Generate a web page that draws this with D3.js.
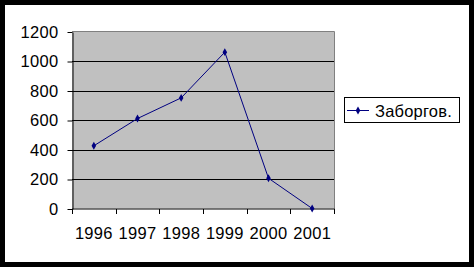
<!DOCTYPE html>
<html><head><meta charset="utf-8">
<script src="https://cdn.jsdelivr.net/npm/d3@7"></script>
<style>body{margin:0;background:#000;}svg{display:block;}</style>
</head><body>
<script>
const categories = ["1996","1997","1998","1999","2000","2001"];
const values = [425, 610, 750, 1060, 205, 0];
const yTicks = [0,200,400,600,800,1000,1200];
const seriesName = "Заборгов.";

const W = 474, H = 267;
const svg = d3.select("body").append("svg").attr("width", W).attr("height", H);
svg.append("rect").attr("x",0).attr("y",0).attr("width",W).attr("height",H).attr("fill","#000");
svg.append("rect").attr("x",5).attr("y",5).attr("width",464).attr("height",257).attr("fill","#fff");

const L = 72, R = 334, T = 31.5, B = 208.5;
const x = d3.scaleBand().domain(categories).range([L, R]);
const y = d3.scaleLinear().domain([0,1200]).range([B, T]);

svg.append("rect").attr("x",L).attr("y",T).attr("width",R-L).attr("height",B-T).attr("fill","#c0c0c0");
svg.append("path").attr("d",`M${L},${T}H${R+0.5}V${B}`).attr("fill","none").attr("stroke","#808080").attr("stroke-width",1);

svg.append("g").selectAll("line").data(yTicks.filter(d=>d>0 && d<1200)).join("line")
  .attr("x1",L).attr("x2",R).attr("y1",d=>Math.round(y(d))+0.5).attr("y2",d=>Math.round(y(d))+0.5)
  .attr("stroke","#000").attr("stroke-width",1);

const font = "'Liberation Sans', Arial, sans-serif";
const yAxis = d3.axisLeft(y).tickValues(yTicks).tickFormat(d3.format("d")).tickSize(5).tickPadding(9).tickSizeOuter(0);
const gy = svg.append("g").attr("transform",`translate(${L+0.5},0.5)`).call(yAxis);
gy.selectAll("text").attr("font-family",font).attr("font-size",16.5).attr("fill","#000").attr("letter-spacing","0.3px");
gy.selectAll("line,path").attr("stroke","#000");

const xAxis = d3.axisBottom(x).tickSize(0).tickPadding(18).tickSizeOuter(0);
const gx = svg.append("g").attr("transform",`translate(0,${B+0.5})`).call(xAxis);
gx.select(".domain").attr("stroke","#000").attr("d",`M${L},0H${R+1}`);
gx.selectAll("text").attr("font-family",font).attr("font-size",16.5).attr("fill","#000").attr("letter-spacing","0.3px");
const bounds = categories.map(c=>x(c)).concat([R]);
gx.selectAll(".btick").data(bounds).join("line").attr("class","btick")
  .attr("x1",d=>Math.round(d)+0.5).attr("x2",d=>Math.round(d)+0.5).attr("y1",0).attr("y2",5).attr("stroke","#000");

const cx = c => x(c) + x.bandwidth()/2;
const line = d3.line().x((d,i)=>cx(categories[i])).y(d=>y(d));
svg.append("path").datum(values).attr("d",line).attr("fill","none").attr("stroke","#000080").attr("stroke-width",1);
const sym = d3.symbol().type(d3.symbolDiamond).size(18);
svg.append("g").selectAll("path").data(values).join("path")
  .attr("transform",(d,i)=>`translate(${cx(categories[i])},${y(d)})`).attr("d",sym).attr("fill","#000080");

const lg = svg.append("g");
lg.append("rect").attr("x",344.5).attr("y",97.5).attr("width",115).attr("height",25).attr("fill","#fff").attr("stroke","#000");
lg.append("line").attr("x1",347).attr("x2",369).attr("y1",110.5).attr("y2",110.5).attr("stroke","#000080");
lg.append("path").attr("transform","translate(358,110.5)").attr("d",sym).attr("fill","#000080");
lg.append("text").attr("x",375).attr("y",116.5).text(seriesName)
  .attr("font-family",font).attr("font-size",16.5).attr("fill","#000").attr("letter-spacing","0.2px");
</script>
</body></html>
